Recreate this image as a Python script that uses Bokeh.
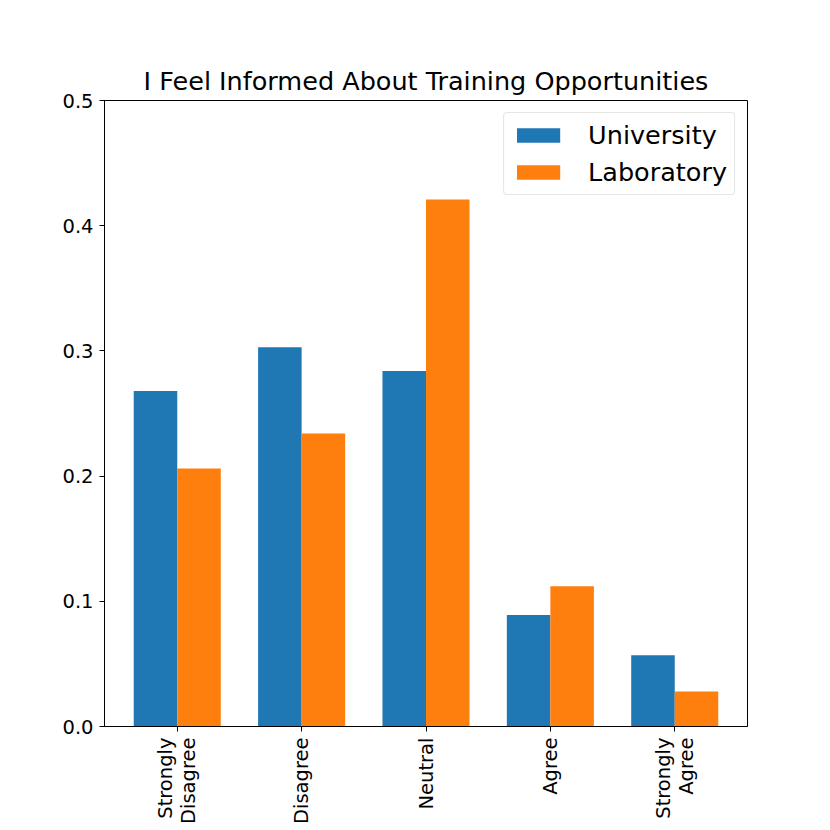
from bokeh.plotting import figure
from bokeh.models import Range1d, FixedTicker, Legend, LegendItem, NumeralTickFormatter
from bokeh.embed import file_html
from bokeh.resources import INLINE
import numpy as np

categories = ["Strongly\nDisagree", "Disagree", "Neutral", "Agree", "Strongly\nAgree"]
university = [0.268, 0.303, 0.284, 0.089, 0.057]
laboratory = [0.206, 0.234, 0.421, 0.112, 0.028]
y_ticks = [0.0, 0.1, 0.2, 0.3, 0.4, 0.5]

FONT = "DejaVu Sans"
bar_w = 0.35
idx = np.arange(len(categories))

p = figure(width=830, height=830, output_backend="svg", toolbar_location=None,
           x_range=Range1d(-0.585, 4.585), y_range=Range1d(0, 0.5),
           min_border_left=104, min_border_right=83, min_border_top=100, min_border_bottom=104)

r1 = p.vbar(x=idx - bar_w / 2, top=university, width=bar_w, color="#1f77b4", line_color=None)
r2 = p.vbar(x=idx + bar_w / 2, top=laboratory, width=bar_w, color="#ff7f0e", line_color=None)

p.title.text = "I Feel Informed About Training Opportunities"
p.title.text_font = FONT
p.title.text_font_size = "25.5px"
p.title.text_font_style = "normal"
p.title.align = "center"
p.title.text_color = "black"

p.grid.visible = False
p.outline_line_color = "black"
p.outline_line_width = 1
p.background_fill_color = "white"
p.border_fill_color = "white"

for ax in (p.xaxis[0], p.yaxis[0]):
    ax.axis_line_color = "black"
    ax.major_tick_line_color = "black"
    ax.major_tick_in = 0
    ax.major_tick_out = 5
    ax.minor_tick_line_color = None
    ax.major_label_text_font = FONT
    ax.major_label_text_font_size = "19.5px"
    ax.major_label_text_color = "black"

p.xaxis.ticker = FixedTicker(ticks=list(idx))
p.xaxis.major_label_overrides = {int(i): c for i, c in zip(idx, categories)}
p.xaxis.major_label_orientation = np.pi / 2
p.xaxis.major_label_standoff = 6
p.xaxis.major_label_text_line_height = 1.0
p.xaxis.major_label_text_align = "center"

p.yaxis.ticker = FixedTicker(ticks=y_ticks)
p.yaxis.formatter = NumeralTickFormatter(format="0.0")
p.yaxis.major_label_standoff = 6

legend = Legend(items=[LegendItem(label="University", renderers=[r1]),
                       LegendItem(label="Laboratory", renderers=[r2])],
                location="top_right")
legend.label_text_font = FONT
legend.label_text_font_size = "25.5px"
legend.label_text_color = "black"
legend.glyph_width = 54
legend.glyph_height = 18
legend.label_standoff = 23
legend.spacing = 7
legend.padding = 7
legend.margin = 12
legend.border_line_color = "#cccccc"
legend.border_line_width = 1
legend.background_fill_alpha = 0.8
if "border_radius" in legend.properties():
    legend.border_radius = 4
p.add_layout(legend)

open("out.html", "w").write(file_html(p, INLINE))
